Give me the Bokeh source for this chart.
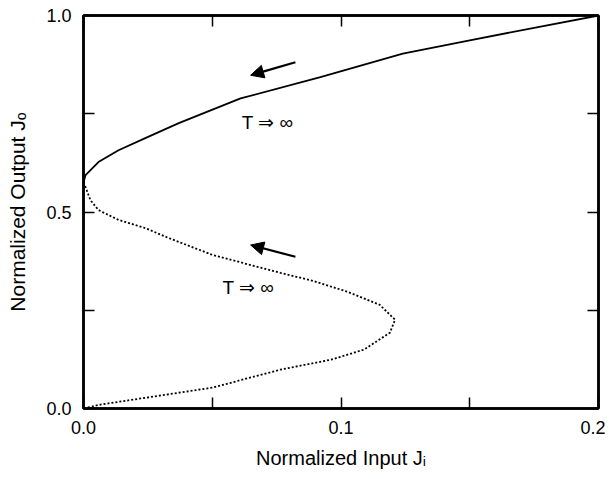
from bokeh.plotting import figure
from bokeh.models import LinearAxis, FixedTicker, Arrow, NormalHead, ColumnDataSource, Range1d
from bokeh.core.properties import value
from bokeh.embed import file_html
from bokeh.resources import INLINE

# Stable branch (solid)
solid_x = [0.0, 0.0008, 0.0058, 0.0136, 0.024, 0.037, 0.061, 0.092, 0.124, 0.150, 0.200]
solid_y = [0.575, 0.594, 0.627, 0.657, 0.688, 0.726, 0.789, 0.843, 0.903, 0.937, 1.0]

# Unstable / lower branch (dotted)
dash_x = [0.0, 0.0008, 0.0027, 0.0058, 0.0136, 0.024, 0.033, 0.050, 0.0765, 0.089, 0.1025, 0.115, 0.121,
          0.119, 0.109, 0.096, 0.0765, 0.050, 0.0066, 0.0]
dash_y = [0.575, 0.563, 0.530, 0.505, 0.480, 0.459, 0.434, 0.391, 0.345, 0.325, 0.297, 0.264, 0.226,
          0.193, 0.150, 0.124, 0.099, 0.053, 0.010, 0.0]

# Annotations
label_x = [0.0715, 0.064]
label_y = [0.728, 0.307]
label_text = ["T \u21d2 \u221e", "T \u21d2 \u221e"]

arrow_tail_x = [0.0823, 0.0823]
arrow_tail_y = [0.881, 0.386]
arrow_head_x = [0.0649, 0.0649]
arrow_head_y = [0.848, 0.416]

x_ticks = [0.0, 0.1, 0.2]
x_minor = [0.05, 0.15]
y_ticks = [0.0, 0.5, 1.0]
y_minor = [0.25, 0.75]

x_title = "Normalized Input J\u1d62"
y_title = "Normalized Output J\u2092"

FONT = "Liberation Sans"

p = figure(width=605, height=471, output_backend="svg", toolbar_location=None,
           x_range=Range1d(0, 0.2), y_range=Range1d(0, 1.0),
           min_border_left=83, min_border_right=7, min_border_top=15, min_border_bottom=62)
p.grid.visible = False
p.outline_line_color = "black"
p.outline_line_width = 2.5
p.background_fill_color = "white"
p.border_fill_color = "white"

p.line(solid_x, solid_y, line_color="black", line_width=1.8)
p.line(dash_x, dash_y, line_color="black", line_width=1.8, line_dash="2 2")

p.text(x=label_x, y=label_y, text=label_text, text_font=value(FONT), text_font_size="19px",
       text_align="center", text_baseline="middle", text_color="black")

src = ColumnDataSource(dict(x0=arrow_tail_x, y0=arrow_tail_y, x1=arrow_head_x, y1=arrow_head_y))
p.add_layout(Arrow(source=src, x_start="x0", y_start="y0", x_end="x1", y_end="y1",
                   line_width=2.2, line_color="black",
                   end=NormalHead(size=13, fill_color="black", line_color="black")))

def style(ax, ticks, minor):
    ax.ticker = FixedTicker(ticks=ticks, minor_ticks=minor)
    ax.axis_line_width = 2.5
    ax.major_tick_in = 11
    ax.major_tick_out = 0
    ax.minor_tick_in = 11
    ax.minor_tick_out = 0
    ax.major_tick_line_width = 1.5
    ax.minor_tick_line_width = 1.5
    ax.major_label_text_font = FONT
    ax.major_label_text_font_size = "18px"
    ax.major_label_text_color = "black"
    ax.axis_label_text_font = FONT
    ax.axis_label_text_font_size = "21px"
    ax.axis_label_text_font_style = "normal"
    ax.axis_label_text_color = "black"

xa = p.xaxis[0]
style(xa, x_ticks, x_minor)
xa.major_label_overrides = {0.0: "0.0", 0.1: "0.1", 0.2: "0.2"}
xa.major_label_standoff = 12
xa.axis_label = x_title
xa.axis_label_text_font_size = "20px"
xa.axis_label_standoff = 10

ya = p.yaxis[0]
style(ya, y_ticks, y_minor)
ya.major_label_overrides = {0.0: "0.0", 0.5: "0.5", 1.0: "1.0"}
ya.major_label_standoff = 12
ya.axis_label = y_title
ya.axis_label_standoff = 14

top = LinearAxis()
style(top, x_ticks, x_minor)
top.major_label_overrides = {0.0: "", 0.1: "", 0.2: ""}
top.major_label_standoff = 0
p.add_layout(top, "above")

right = LinearAxis()
style(right, y_ticks, y_minor)
right.major_label_overrides = {0.0: "", 0.5: "", 1.0: ""}
right.major_label_standoff = 0
p.add_layout(right, "right")

open("out.html", "w").write(file_html(p, INLINE))
